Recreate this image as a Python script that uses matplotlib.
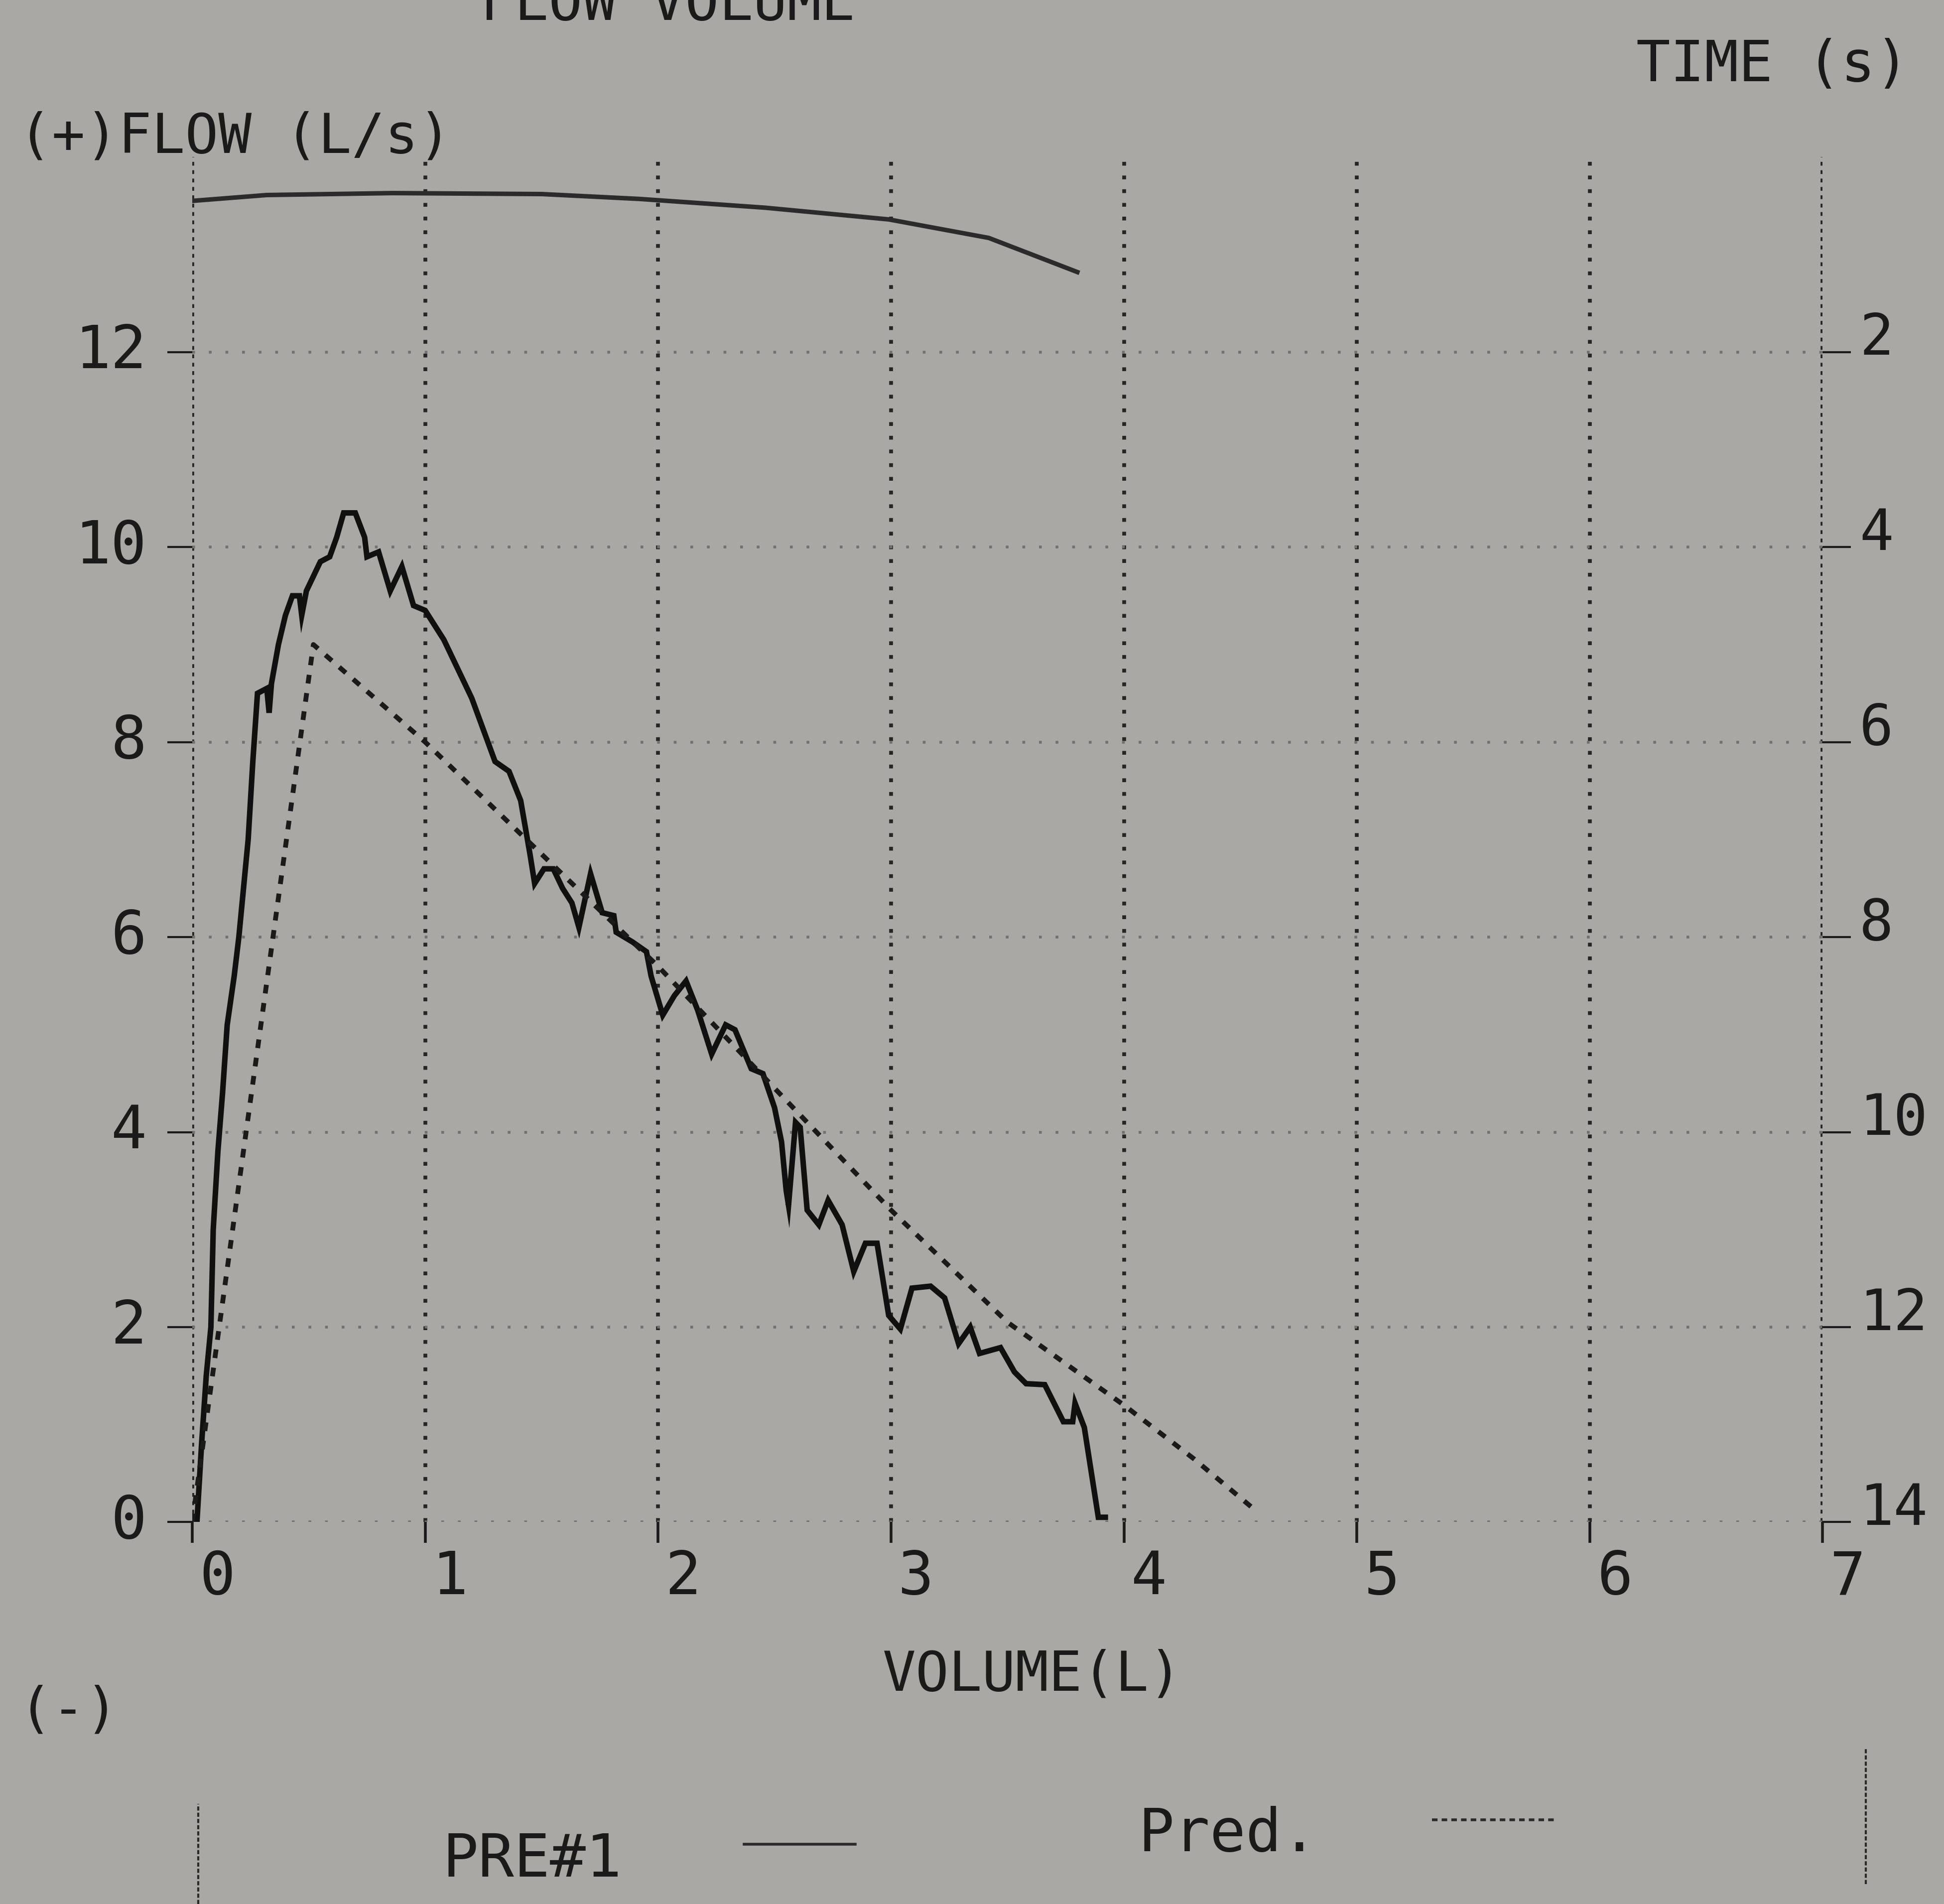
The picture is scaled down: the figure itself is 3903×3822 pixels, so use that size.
import matplotlib.pyplot as plt
from matplotlib.lines import Line2D
from matplotlib.transforms import ScaledTranslation

# measured trace (PRE#1): volume (L) vs flow (L/s)
pre_vol = [0.02, 0.04, 0.06, 0.08, 0.09, 0.11, 0.13, 0.15, 0.18, 0.20, 0.22, 0.24, 0.26,
           0.28, 0.32, 0.33, 0.34, 0.37, 0.40, 0.43, 0.46, 0.47, 0.49, 0.52, 0.55, 0.59,
           0.62, 0.65, 0.70, 0.74, 0.75, 0.80, 0.85, 0.90, 0.95, 1.00, 1.08, 1.20, 1.30,
           1.36, 1.41, 1.45, 1.47, 1.51, 1.55, 1.59, 1.63, 1.66, 1.71, 1.76, 1.81, 1.82,
           1.89, 1.95, 1.97, 2.02, 2.07, 2.12, 2.17, 2.23, 2.29, 2.33, 2.40, 2.45, 2.50,
           2.53, 2.55, 2.56, 2.59, 2.61, 2.64, 2.69, 2.73, 2.79, 2.84, 2.89, 2.94, 2.99,
           3.04, 3.09, 3.17, 3.23, 3.29, 3.34, 3.38, 3.47, 3.53, 3.58, 3.66, 3.74, 3.78,
           3.79, 3.83, 3.89, 3.92]
pre_flow = [0.0, 0.8, 1.5, 2.0, 3.0, 3.8, 4.4, 5.1, 5.6, 6.0, 6.5, 7.0, 7.8,
            8.5, 8.55, 8.3, 8.6, 9.0, 9.3, 9.5, 9.5, 9.3, 9.55, 9.7, 9.85, 9.9,
            10.1, 10.35, 10.35, 10.1, 9.9, 9.95, 9.55, 9.8, 9.4, 9.35, 9.05, 8.45, 7.8,
            7.7, 7.4, 6.85, 6.55, 6.7, 6.7, 6.5, 6.35, 6.1, 6.65, 6.25, 6.22, 6.05,
            5.95, 5.85, 5.6, 5.2, 5.4, 5.55, 5.25, 4.8, 5.1, 5.05, 4.65, 4.6, 4.25,
            3.9, 3.4, 3.25, 4.1, 4.05, 3.2, 3.05, 3.3, 3.05, 2.57, 2.86, 2.86, 2.12,
            1.98, 2.4, 2.42, 2.3, 1.83, 2.0, 1.73, 1.79, 1.54, 1.42, 1.41, 1.03, 1.03,
            1.22, 0.97, 0.05, 0.05]

# predicted curve
pred_vol = [0.0, 0.52, 1.0, 1.5, 2.0, 2.5, 3.0, 3.5, 4.0, 4.3, 4.55]
pred_flow = [0.0, 9.0, 8.0, 6.85, 5.7, 4.45, 3.2, 2.05, 1.2, 0.65, 0.15]

# volume-time trace (right axis, time grows downward)
vt_vol = [0.0, 0.32, 0.86, 1.50, 1.92, 2.46, 2.99, 3.42, 3.80]
vt_time = [0.45, 0.39, 0.37, 0.38, 0.43, 0.52, 0.64, 0.83, 1.18]

vol_ticks = [0, 1, 2, 3, 4, 5, 6, 7]
flow_ticks = [0, 2, 4, 6, 8, 10, 12]
time_ticks = [2, 4, 6, 8, 10, 12, 14]

paper = '#a9a8a5'
ink = '#1a1a1a'
plt.rcParams['font.family'] = 'DejaVu Sans Mono'

fig = plt.figure(figsize=(39.03, 38.23), dpi=100, facecolor=paper)
ax = fig.add_axes([0.0989, 0.2005, 0.8387, 0.7168])
ax.set_facecolor('none')
ax.set_xlim(0, 7)
ax.set_ylim(0, 14)
ax2 = ax.twinx()
ax2.set_ylim(14, 0)
for a in (ax, ax2):
    for s in a.spines.values():
        s.set_visible(False)

# grid
ax.vlines(vol_ticks[1:-1], 0, 14, colors='#252525', linestyles=(0, (1, 2.6)), lw=5.5)
ax.vlines([vol_ticks[0], vol_ticks[-1]], 0, 14, colors='#252525', linestyles=(0, (1, 1.2)), lw=5.5)
ax.hlines(flow_ticks, 0, 7, colors='#727070', linestyles=(0, (1, 5)), lw=4)

# curves
ax.plot(pre_vol, pre_flow, color='#101010', lw=8, solid_joinstyle='miter')
ax.plot(pred_vol, pred_flow, color='#1a1a1a', lw=7, linestyle=(0, (1.8, 2.0)))
ax2.plot(vt_vol, vt_time, color='#2b2b2b', lw=6.5)

# ticks
ax.set_xticks(vol_ticks)
ax.set_xticklabels([str(v) for v in vol_ticks])
ax.tick_params(axis='x', direction='out', length=30, width=4, pad=8,
               labelsize=86, colors=ink)
for lbl in ax.get_xticklabels():
    lbl.set_transform(lbl.get_transform() + ScaledTranslation(36 / 72, 0, fig.dpi_scale_trans))

ax.set_yticks(flow_ticks)
ax.set_yticklabels([str(v) for v in flow_ticks])
ax.tick_params(axis='y', direction='out', length=36, width=3, pad=30,
               labelsize=86, colors=ink)
for lbl in ax.get_yticklabels():
    lbl.set_transform(lbl.get_transform() + ScaledTranslation(0, 10 / 72, fig.dpi_scale_trans))

ax2.set_yticks(time_ticks)
ax2.set_yticklabels([str(v) for v in time_ticks])
ax2.tick_params(axis='y', direction='out', length=41, width=3, pad=12,
                labelsize=82, colors=ink)
for lbl in ax2.get_yticklabels():
    lbl.set_transform(lbl.get_transform() + ScaledTranslation(0, 28 / 72, fig.dpi_scale_trans))

# labels
fig.text(0.247, 0.9895, 'FLOW VOLUME', fontsize=82, color=ink, va='baseline')
fig.text(0.0096, 0.928, '(+)FLOW (L/s)', fontsize=80, color=ink, va='center')
fig.text(0.982, 0.9655, 'TIME (s)', fontsize=82, color=ink, va='center', ha='right')
fig.text(0.531, 0.1204, 'VOLUME(L)', fontsize=80, color=ink, va='center', ha='center')
fig.text(0.0096, 0.1016, '(-)', fontsize=80, color=ink, va='center')

# legend strip at the bottom
fig.text(0.2277, 0.0234, 'PRE#1', fontsize=86, color=ink, va='center')
fig.text(0.5855, 0.0365, 'Pred.', fontsize=86, color=ink, va='center')
fig.add_artist(Line2D([0.3827, 0.44], [0.0313, 0.0313], transform=fig.transFigure,
                      color='#2a2a2a', lw=4))
fig.add_artist(Line2D([0.7366, 0.8004], [0.0443, 0.0443], transform=fig.transFigure,
                      color='#2a2a2a', lw=4, linestyle=(0, (2, 1.5))))
fig.add_artist(Line2D([0.102, 0.102], [0.0, 0.0527], transform=fig.transFigure,
                      color='#2a2a2a', lw=3, linestyle=(0, (2, 1))))
fig.add_artist(Line2D([0.9598, 0.9598], [0.0104, 0.082], transform=fig.transFigure,
                      color='#2a2a2a', lw=3, linestyle=(0, (2, 1))))

fig.savefig('out.png', dpi=100, facecolor=paper)
